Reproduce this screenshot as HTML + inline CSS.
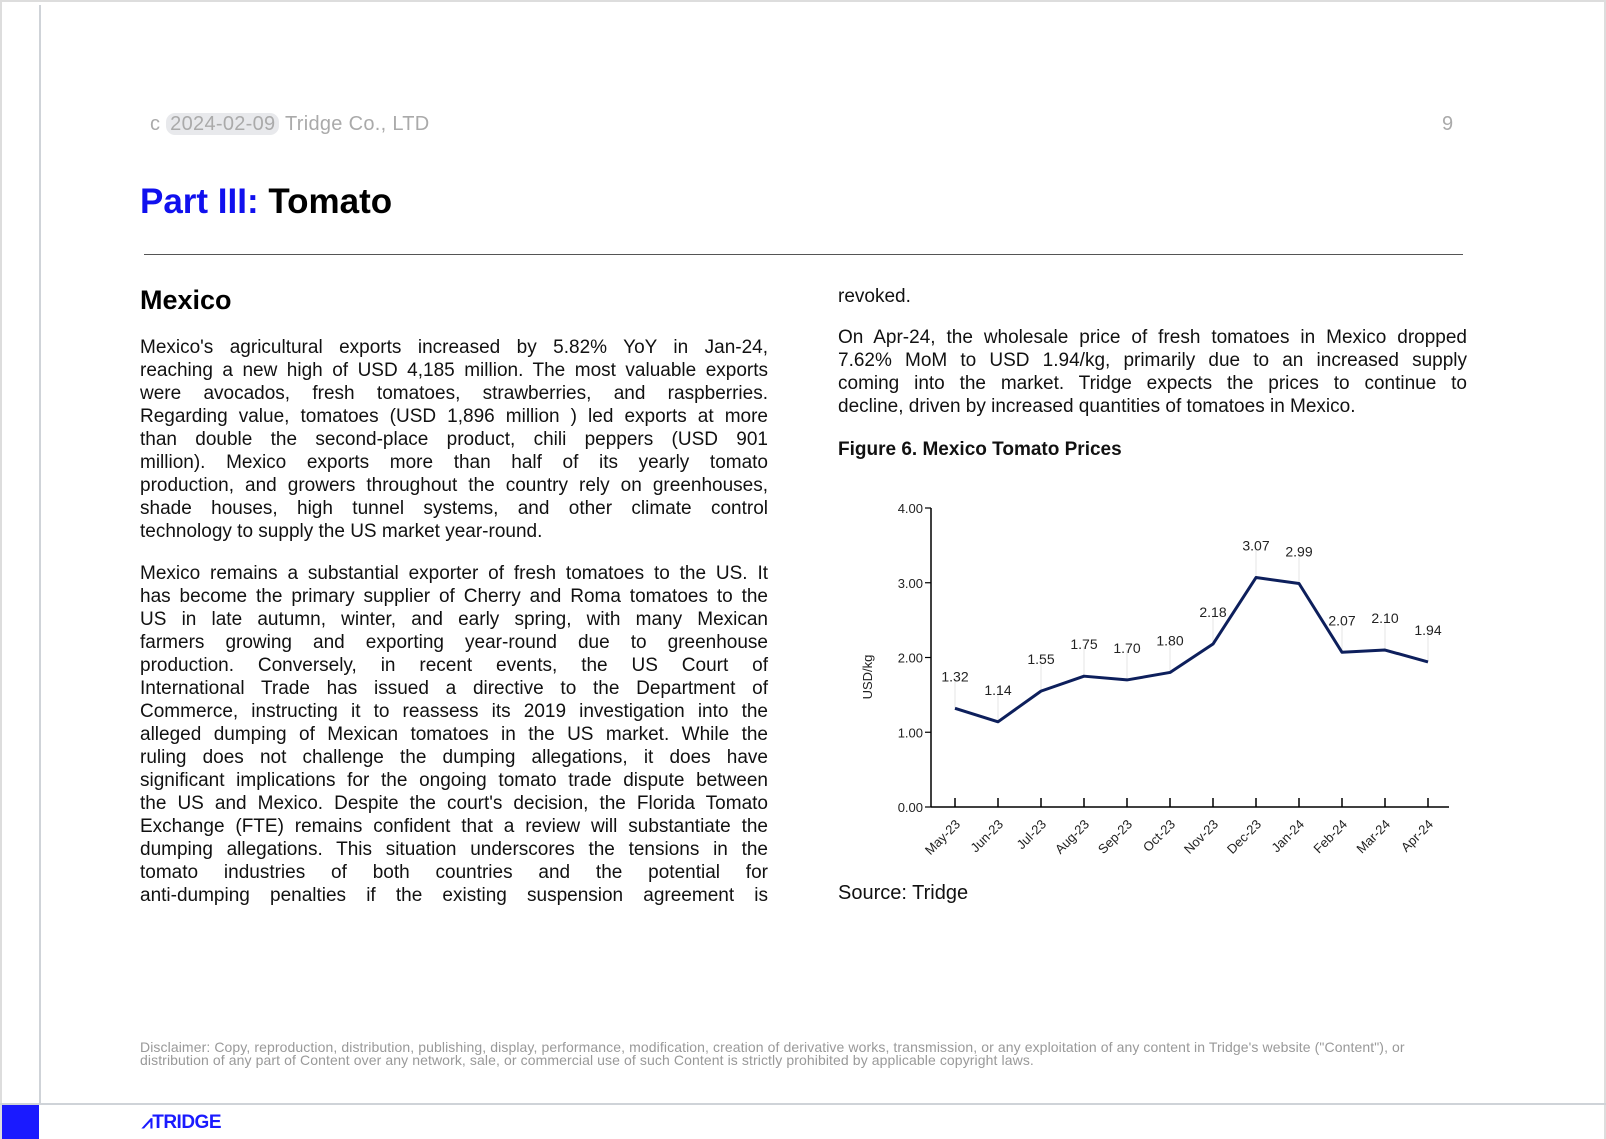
<!DOCTYPE html>
<html><head><meta charset="utf-8">
<style>
*{margin:0;padding:0;box-sizing:border-box}
body{width:1606px;height:1139px;background:#fff;position:relative;overflow:hidden;font-family:"Liberation Sans",sans-serif;color:#111}
.abs{position:absolute}
.col div{height:23px;line-height:23px;font-size:19px;text-align:justify;text-align-last:justify;white-space:nowrap}
.col div.l{text-align-last:left}
</style></head><body>
<div class="abs" style="left:0;top:0;width:1606px;height:1139px;border:2px solid #ddd;border-bottom:none"></div>
<div class="abs" style="left:39px;top:5px;width:2px;height:1100px;background:#cfd3d8"></div>
<div class="abs" style="left:150px;top:112px;font-size:20px;letter-spacing:0.3px;color:#aaa;line-height:24px">c <span style="background:#e8e9ec;border-radius:9px;padding:0 4px;color:#aaa">2024-02-09</span> Tridge Co., LTD</div>
<div class="abs" style="left:1442px;top:112px;font-size:20px;color:#aaa;line-height:24px">9</div>
<div class="abs" style="left:140px;top:182px;font-size:35px;font-weight:bold;line-height:40px"><span style="color:#1010ee">Part III:</span> <span style="color:#000">Tomato</span></div>
<div class="abs" style="left:144px;top:254px;width:1319px;height:1px;background:#555"></div>
<div class="abs" style="left:140px;top:284px;font-size:27px;font-weight:bold;line-height:32px;color:#000">Mexico</div>

<div class="abs col" style="left:140px;top:336px;width:628px">
<div>Mexico's agricultural exports increased by 5.82% YoY in Jan-24,</div>
<div>reaching a new high of USD 4,185 million. The most valuable exports</div>
<div>were avocados, fresh tomatoes, strawberries, and raspberries.</div>
<div>Regarding value, tomatoes (USD 1,896 million ) led exports at more</div>
<div>than double the second-place product, chili peppers (USD 901</div>
<div>million). Mexico exports more than half of its yearly tomato</div>
<div>production, and growers throughout the country rely on greenhouses,</div>
<div>shade houses, high tunnel systems, and other climate control</div>
<div class="l">technology to supply the US market year-round.</div>
<div style="height:19px"></div>
<div>Mexico remains a substantial exporter of fresh tomatoes to the US. It</div>
<div>has become the primary supplier of Cherry and Roma tomatoes to the</div>
<div>US in late autumn, winter, and early spring, with many Mexican</div>
<div>farmers growing and exporting year-round due to greenhouse</div>
<div>production. Conversely, in recent events, the US Court of</div>
<div>International Trade has issued a directive to the Department of</div>
<div>Commerce, instructing it to reassess its 2019 investigation into the</div>
<div>alleged dumping of Mexican tomatoes in the US market. While the</div>
<div>ruling does not challenge the dumping allegations, it does have</div>
<div>significant implications for the ongoing tomato trade dispute between</div>
<div>the US and Mexico. Despite the court's decision, the Florida Tomato</div>
<div>Exchange (FTE) remains confident that a review will substantiate the</div>
<div>dumping allegations. This situation underscores the tensions in the</div>
<div>tomato industries of both countries and the potential for</div>
<div>anti-dumping penalties if the existing suspension agreement is</div>
</div>

<div class="abs col" style="left:838px;top:285px;width:629px">
<div class="l">revoked.</div>
<div style="height:18px"></div>
<div>On Apr-24, the wholesale price of fresh tomatoes in Mexico dropped</div>
<div>7.62% MoM to USD 1.94/kg, primarily due to an increased supply</div>
<div>coming into the market. Tridge expects the prices to continue to</div>
<div class="l">decline, driven by increased quantities of tomatoes in Mexico.</div>
</div>
<div class="abs" style="left:838px;top:438px;font-size:19px;font-weight:bold;line-height:23px">Figure 6. Mexico Tomato Prices</div>

<svg class="abs" id="chart" style="left:0;top:0" width="1606" height="1139"></svg>

<div class="abs" style="left:838px;top:881px;font-size:20px;line-height:24px">Source: Tridge</div>
<div class="abs" style="left:140px;top:1041px;font-size:14px;letter-spacing:0.1px;line-height:13px;color:#999;width:1420px">Disclaimer: Copy, reproduction, distribution, publishing, display, performance, modification, creation of derivative works, transmission, or any exploitation of any content in Tridge's website ("Content"), or<br>distribution of any part of Content over any network, sale, or commercial use of such Content is strictly prohibited by applicable copyright laws.</div>
<div class="abs" style="left:0;top:1103px;width:1606px;height:2px;background:#cfd3d8"></div>
<div class="abs" style="left:2px;top:1105px;width:37px;height:34px;background:#1a1aff"></div>
<div class="abs" style="left:142px;top:1113px;font-size:19px;font-weight:bold;color:#1a1aff;line-height:20px;letter-spacing:-0.5px">⩘TRIDGE</div>

<script>
const categories=["May-23","Jun-23","Jul-23","Aug-23","Sep-23","Oct-23","Nov-23","Dec-23","Jan-24","Feb-24","Mar-24","Apr-24"];
const prices=[1.32,1.14,1.55,1.75,1.70,1.80,2.18,3.07,2.99,2.07,2.10,1.94];
const yTicks=[0,1,2,3,4];
const yTickLabels=["0.00","1.00","2.00","3.00","4.00"];
const svg=document.getElementById('chart');
const NS='http://www.w3.org/2000/svg';
const X0=931,Y0=807,Y4=508,XF=955,XL=1428,XEND=1449;
const y=v=>Y0-(v/4)*(Y0-Y4);
const x=i=>XF+i*(XL-XF)/(categories.length-1);
function mk(t,a){const e=document.createElementNS(NS,t);for(const k in a)e.setAttribute(k,a[k]);svg.appendChild(e);return e;}
let e;
e=mk('line',{x1:X0,y1:Y4,x2:X0,y2:Y0,stroke:'#000','stroke-width':1.5});


e=mk('line',{x1:X0,y1:Y0,x2:XEND,y2:Y0,stroke:'#000','stroke-width':1.5});


yTicks.forEach((v,i)=>{
  e=mk('line',{x1:X0-6,y1:y(v),x2:X0,y2:y(v),stroke:'#000','stroke-width':1.2});
  
  
  e=mk('text',{x:X0-8,y:y(v)+5,'text-anchor':'end','font-size':13,fill:'#222','font-family':'Liberation Sans'});
  e.textContent=yTickLabels[i];
  
  
});
e=mk('text',{x:0,y:0,'text-anchor':'middle','font-size':13,fill:'#222','font-family':'Liberation Sans',transform:'translate(872,677) rotate(-90)'});
e.textContent='USD/kg';


categories.forEach((c,i)=>{
  e=mk('line',{x1:x(i),y1:Y0-9,x2:x(i),y2:Y0,stroke:'#000','stroke-width':1.5});
  
  
  e=mk('text',{x:0,y:0,'text-anchor':'end','font-size':13,fill:'#222','font-family':'Liberation Sans',transform:`translate(${x(i)+6},${Y0+18}) rotate(-45)`});
  e.textContent=c;
  
  
});
prices.forEach((v,i)=>{
  e=mk('line',{x1:x(i),y1:y(v),x2:x(i),y2:y(v)-30,stroke:'#e4e4e4','stroke-width':1});
  
  
});
const pts=prices.map((v,i)=>x(i)+','+y(v)).join(' ');
e=mk('polyline',{points:pts,fill:'none',stroke:'#0d1f5c','stroke-width':3,'stroke-linejoin':'round'});


prices.forEach((v,i)=>{
  e=mk('text',{x:x(i),y:y(v)-27,'text-anchor':'middle','font-size':14,fill:'#222','font-family':'Liberation Sans'});
  e.textContent=v.toFixed(2);
  
  
});
</script>
</body></html>
